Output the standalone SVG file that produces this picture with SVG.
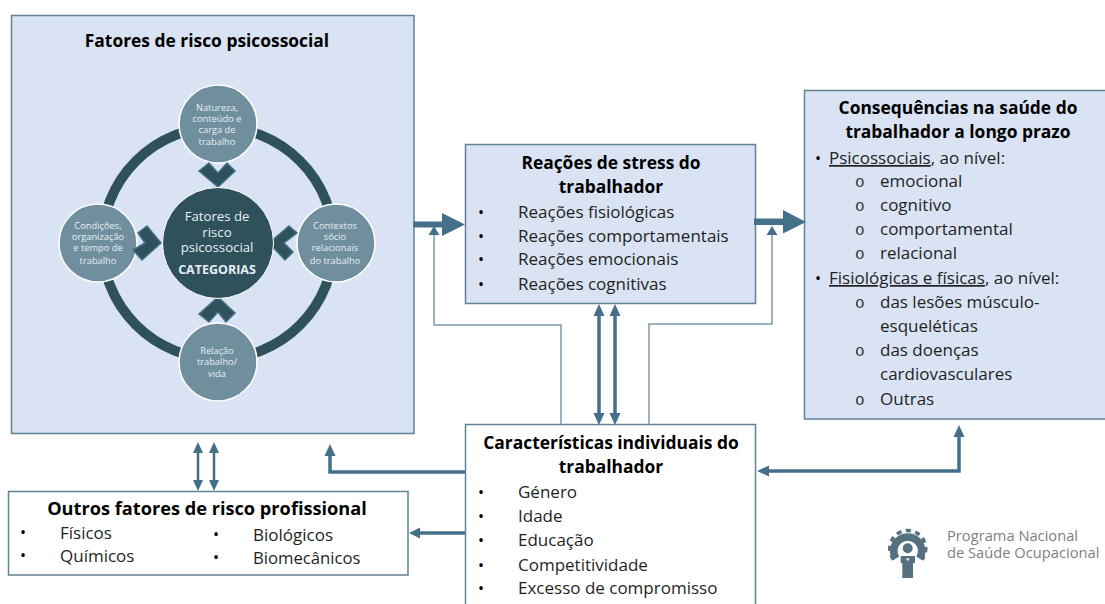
<svg xmlns="http://www.w3.org/2000/svg" width="1105" height="604" viewBox="0 0 1105 604">
<style>
text{font-family:"Open Sans","Noto Sans","Liberation Sans",sans-serif;fill:#1f1f1f}
.box{fill:#dae3f3;stroke:#5f8296;stroke-width:1.5}
.wbox{fill:#fff;stroke:#5f8296;stroke-width:1.5}
.t{font-size:17.400px;font-weight:700;fill:#000;text-anchor:middle}
.b{font-size:17px}
.d{font-size:16px;fill:#000}
.o{font-size:16px;fill:#333;font-family:"Liberation Mono",monospace}
.sat{fill:#6f8e9e;stroke:#fff;stroke-width:1.5}
.st{font-size:9.300px;fill:#e8eef2;text-anchor:middle}
.ct{font-size:13.200px;fill:#e8eef2;text-anchor:middle}
.chev{fill:#2f515c;stroke:#44708a;stroke-width:1.5}
.thin{fill:none;stroke:#7b9bad;stroke-width:1.5}
.a{fill:#44708a}
.l{fill:none;stroke:#44708a}
.lg{font-size:14.700px;fill:#7f7f7f}
</style>
<g id="fatores-risco">
<rect class="box" x="11.500" y="15.500" width="402.500" height="418"/>
<text class="t" x="207" y="47">Fatores de risco psicossocial</text>
<circle cx="218" cy="243" r="116" fill="none" stroke="#2f515c" stroke-width="10"/>
<circle class="sat" cx="218" cy="124" r="39"/>
<text class="st" x="217" y="111">Natureza,</text>
<text class="st" x="217" y="122">conteúdo e</text>
<text class="st" x="217" y="133">carga de</text>
<text class="st" x="217" y="145">trabalho</text>
<circle class="sat" cx="98" cy="243" r="39"/>
<text class="st" x="98" y="229">Condições,</text>
<text class="st" x="98" y="240">organização</text>
<text class="st" x="98" y="251">e tempo de</text>
<text class="st" x="98" y="264">trabalho</text>
<circle class="sat" cx="336" cy="243" r="39"/>
<text class="st" x="335" y="229">Contextos</text>
<text class="st" x="335" y="240">sócio</text>
<text class="st" x="335" y="251">relacionais</text>
<text class="st" x="335" y="264">do trabalho</text>
<circle class="sat" cx="218" cy="362" r="39"/>
<text class="st" x="217" y="354">Relação</text>
<text class="st" x="217" y="365">trabalho/</text>
<text class="st" x="217" y="377">vida</text>
<polygon class="chev" points="199,171 209,163 218,173 227,163 235,171 218,187"/>
<polygon class="chev" points="199,314 209,322 218,312 226,322 235,313 218,297"/>
<polygon class="chev" points="147,226 138,233 145,243 133,250 142,260 161,243"/>
<polygon class="chev" points="289,226 297,233 284,243 293,252 285,260 269,243"/>
<circle cx="218" cy="243" r="55.500" fill="#2f515c" stroke="#fff" stroke-width="1"/>
<text class="ct" x="217" y="221">Fatores de</text>
<text class="ct" x="217" y="237">risco</text>
<text class="ct" x="217" y="252">psicossocial</text>
<text class="ct" x="217" y="274" style="font-size:12.500px;font-weight:700">CATEGORIAS</text>
</g>
<g id="reacoes">
<rect class="box" x="465.500" y="144.500" width="290" height="159"/>
<text class="t" x="611" y="169">Reações de stress do</text>
<text class="t" x="611" y="193">trabalhador</text>
<text class="d" x="478" y="218">•</text><text class="b" x="518" y="218">Reações fisiológicas</text>
<text class="d" x="478" y="242">•</text><text class="b" x="518" y="242">Reações comportamentais</text>
<text class="d" x="478" y="265">•</text><text class="b" x="518" y="265">Reações emocionais</text>
<text class="d" x="478" y="290">•</text><text class="b" x="518" y="290">Reações cognitivas</text>
</g>
<g id="consequencias">
<rect class="box" x="804.500" y="90.500" width="303" height="328.500"/>
<text class="t" x="958" y="114">Consequências na saúde do</text>
<text class="t" x="958" y="138">trabalhador a longo prazo</text>
<text class="d" x="815" y="164">•</text><text class="b" x="829" y="164"><tspan text-decoration="underline">Psicossociais</tspan>,  ao nível:</text>
<text class="o" x="855" y="187">o</text><text class="b" x="880" y="187">emocional</text>
<text class="o" x="855" y="211">o</text><text class="b" x="880" y="211">cognitivo</text>
<text class="o" x="855" y="235">o</text><text class="b" x="880" y="235">comportamental</text>
<text class="o" x="855" y="259">o</text><text class="b" x="880" y="259">relacional</text>
<text class="d" x="815" y="284">•</text><text class="b" x="829" y="284"><tspan text-decoration="underline">Fisiológicas e físicas</tspan>,  ao nível:</text>
<text class="o" x="855" y="308">o</text><text class="b" x="880" y="308">das lesões  músculo-</text>
<text class="b" x="880" y="332">esqueléticas</text>
<text class="o" x="855" y="356">o</text><text class="b" x="880" y="356">das doenças</text>
<text class="b" x="880" y="380">cardiovasculares</text>
<text class="o" x="855" y="405">o</text><text class="b" x="880" y="405">Outras</text>
</g>
<g id="caracteristicas">
<path class="wbox" d="M465.500 604V424.500H755.500V604"/>
<text class="t" x="611" y="449">Características individuais do</text>
<text class="t" x="611" y="473">trabalhador</text>
<text class="d" x="478" y="498">•</text><text class="b" x="518" y="498">Género</text>
<text class="d" x="478" y="522">•</text><text class="b" x="518" y="522">Idade</text>
<text class="d" x="478" y="546">•</text><text class="b" x="518" y="546">Educação</text>
<text class="d" x="478" y="571">•</text><text class="b" x="518" y="571">Competitividade</text>
<text class="d" x="478" y="594">•</text><text class="b" x="518" y="594">Excesso de compromisso</text>
</g>
<g id="outros">
<rect class="wbox" x="8.500" y="491.500" width="399.500" height="83.500"/>
<text class="t" x="207" y="515" style="font-size:18.200px">Outros fatores de risco profissional</text>
<text class="d" x="20" y="538">•</text><text class="b" x="60" y="539">Físicos</text>
<text class="d" x="20" y="561">•</text><text class="b" x="60" y="562">Químicos</text>
<text class="d" x="213" y="540">•</text><text class="b" x="253" y="541">Biológicos</text>
<text class="d" x="213" y="563">•</text><text class="b" x="253" y="564" style="font-size:16.700px">Biomecânicos</text>
</g>
<g id="connectors">
<path class="thin" d="M561 424V325H434V232"/>
<path class="a" d="M434 226l5.500 9h-11z"/>
<path class="thin" d="M649 424V324H772V232"/>
<path class="a" d="M772 226l5.500 9h-11z"/>
<path class="a" d="M413 221.500h29V213l23 11.500-23 11.500v-8.500h-29z"/>
<path class="a" d="M754 218.500h29V210l23 12-23 11.500v-8.500h-29z"/>
<path class="l" stroke-width="3.500" d="M599 310V420M615 310V420"/>
<path class="a" d="M599 304l5.500 12h-11zM599 425l5.500-12h-11zM615 304l5.500 12h-11zM615 425l5.500-12h-11z"/>
<path class="l" stroke-width="2.500" d="M198 448V486M214 448V486"/>
<path class="a" d="M198 442l5 11h-10zM198 491l5-11h-10zM214 442l5 11h-10zM214 491l5-11h-10z"/>
<path class="l" stroke-width="3.500" d="M465 472H330V450"/>
<path class="a" d="M330 444l5.500 12h-11z"/>
<path class="l" stroke-width="3.500" d="M465 533H416"/>
<path class="a" d="M409 533l11-5.500v11z"/>
<path class="l" stroke-width="3.500" d="M763 471H959V432"/>
<path class="a" d="M757 471l12-5.500v11zM959 425l5.500 12h-11z"/>
</g>
<g id="logo">
<path d="M896 558.500A14 14 0 1 1 919.500 558.500" fill="none" stroke="#55707f" stroke-width="7.500"/>
<path d="M893.500 559.500A18 18 0 1 1 922 559.500" fill="none" stroke="#55707f" stroke-width="3.500" stroke-dasharray="5 4.500"/>
<circle cx="907.700" cy="548.300" r="5" fill="#55707f"/>
<path d="M900.700 556H915V563H913V578H902.300V563H900.700Z" fill="#55707f"/>
<path d="M907.800 561l-2-2.500h4z" fill="#fff"/>
<text class="lg" x="947" y="541">Programa Nacional</text>
<text class="lg" x="947" y="558">de Saúde Ocupacional</text>
</g>
</svg>
